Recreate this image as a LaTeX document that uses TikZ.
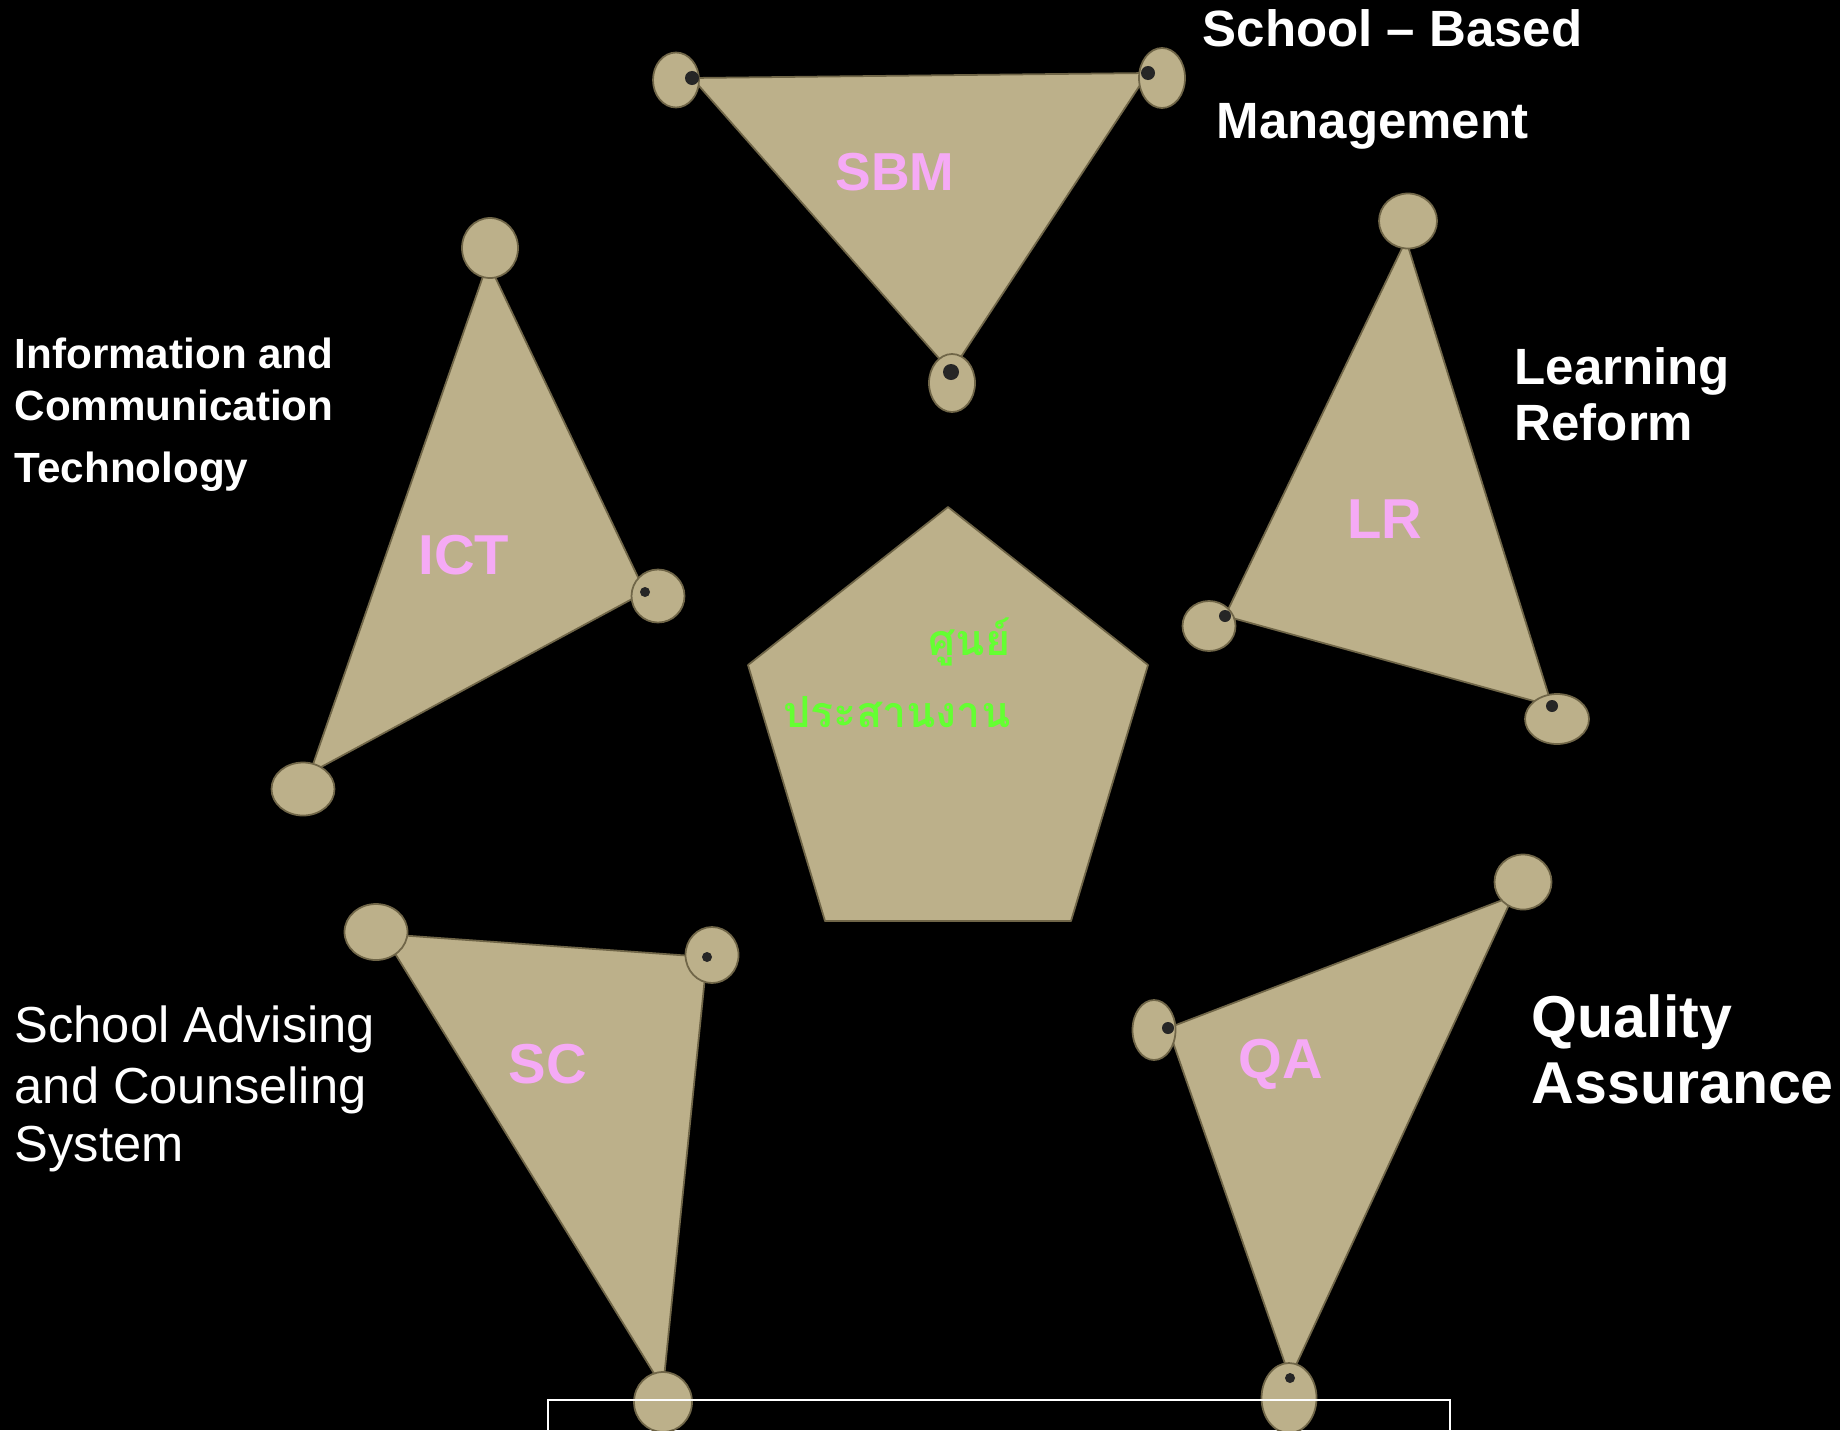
\documentclass[tikz,border=0pt]{standalone}
\usepackage{fontspec}
\setmainfont{Liberation Sans}
\newfontfamily\thaifont[Script=Thai]{Loma}
\usetikzlibrary{shapes.geometric,positioning}
\definecolor{plate}{RGB}{188,176,138}
\definecolor{rim}{RGB}{112,102,72}
\definecolor{tagpink}{RGB}{245,170,245}
\definecolor{thaigreen}{RGB}{100,255,50}

\begin{document}
\begin{tikzpicture}[x=0.01cm, y=-0.01cm,
    plate/.style={fill=plate, draw=rim, line width=0.5pt, line join=round},
    knob/.style 2 args={ellipse, fill=plate, draw=rim, line width=0.5pt, inner sep=0pt, minimum width=#1*0.01cm, minimum height=#2*0.01cm},
    notch/.style={fill=black!85},
    tag/.style={text=tagpink, inner sep=0pt, font=\bfseries\fontsize{16}{19}\selectfont},
    head/.style={text=white, anchor=base west, inner sep=0pt, font=\bfseries\fontsize{14.5}{17}\selectfont},
    thai/.style={text=thaigreen, anchor=base east, inner sep=0pt, font=\thaifont\bfseries\fontsize{12.2}{15}\selectfont}
]
    \fill[black] (0,0) rectangle (1840,1430);
    \useasboundingbox (0,0) rectangle (1840,1430);

    \coordinate (sbm-a) at (692,78);
    \coordinate (sbm-b) at (1148,73);
    \coordinate (sbm-c) at (951,372);
    \coordinate (ict-a) at (488,262);
    \coordinate (ict-b) at (645,592);
    \coordinate (ict-c) at (310,773);
    \coordinate (lr-a) at (1406,240);
    \coordinate (lr-b) at (1225,616);
    \coordinate (lr-c) at (1552,706);
    \coordinate (sc-a) at (383,934);
    \coordinate (sc-b) at (707,957);
    \coordinate (sc-c) at (663,1388);
    \coordinate (qa-a) at (1168,1028);
    \coordinate (qa-b) at (1513,896);
    \coordinate (qa-c) at (1290,1378);

    \fill[plate] (sbm-a) -- (sbm-b) -- (sbm-c) -- cycle;
    \fill[plate] (ict-a) -- (ict-b) -- (ict-c) -- cycle;
    \fill[plate] (lr-a) -- (lr-b) -- (lr-c) -- cycle;
    \fill[plate] (sc-a) -- (sc-b) -- (sc-c) -- cycle;
    \fill[plate] (qa-a) -- (qa-b) -- (qa-c) -- cycle;

    \node[knob={46}{55}] (sbm-ka) at (676,80) {};
    \node[knob={46}{60}] (sbm-kb) at (1162,78) {};
    \node[knob={46}{58}] (sbm-kc) at (952,383) {};
    \node[knob={56}{60}] (ict-ka) at (490,248) {};
    \node[knob={53}{53}] (ict-kb) at (658,596) {};
    \node[knob={63}{53}] (ict-kc) at (303,789) {};
    \node[knob={58}{55}] (lr-ka) at (1408,221) {};
    \node[knob={53}{50}] (lr-kb) at (1209,626) {};
    \node[knob={64}{50}] (lr-kc) at (1557,719) {};
    \node[knob={63}{56}] (sc-ka) at (376,932) {};
    \node[knob={53}{56}] (sc-kb) at (712,955) {};
    \node[knob={58}{60}] (sc-kc) at (663,1402) {};
    \node[knob={43}{60}] (qa-ka) at (1154,1030) {};
    \node[knob={57}{55}] (qa-kb) at (1523,882) {};
    \node[knob={55}{70}] (qa-kc) at (1289,1398) {};

    \fill[notch] (sbm-a) circle [radius=0.07cm];
    \fill[notch] (sbm-b) circle [radius=0.07cm];
    \fill[notch] (sbm-c) circle [radius=0.08cm];
    \fill[notch] (ict-b) circle [radius=0.05cm];
    \fill[notch] (lr-b) circle [radius=0.06cm];
    \fill[notch] (lr-c) circle [radius=0.06cm];
    \fill[notch] (sc-b) circle [radius=0.05cm];
    \fill[notch] (qa-a) circle [radius=0.06cm];
    \fill[notch] (qa-c) circle [radius=0.05cm];

    \node[tag, font=\bfseries\fontsize{15.2}{18}\selectfont] (sbm) at (895,172) {SBM};
    \node[tag] (ict) at (464,555) {ICT};
    \node[tag] (lr) at (1385,519) {LR};
    \node[tag] (sc) at (548,1064) {SC};
    \node[tag] (qa) at (1281,1064) {QA};

    \fill[plate] (948,507) -- (1148,665) -- (1071,921) -- (825,921) -- (748,665) -- cycle;
    \node[thai] (hub-top) at (1011,655) {ศูนย์};
    \node[thai] (hub-bottom) at (1011,727) {ประสานงาน};

    \node[head] (sbm-line1) at (1202,47) {School – Based};
    \node[head] (sbm-line2) at (1216,138) {Management};
    \node[head] (lr-line1) at (1514,384) {Learning};
    \node[head] (lr-line2) at (1514,440) {Reform};
    \node[head, font=\bfseries\fontsize{16.8}{20}\selectfont] (qa-line1) at (1531,1037) {Quality};
    \node[head, font=\bfseries\fontsize{16.8}{20}\selectfont] (qa-line2) at (1531,1103) {Assurance};
    \node[head, font=\bfseries\fontsize{12}{14}\selectfont] (ict-line1) at (14,368) {Information and};
    \node[head, font=\bfseries\fontsize{12}{14}\selectfont] (ict-line2) at (14,420) {Communication};
    \node[head, font=\bfseries\fontsize{12}{14}\selectfont] (ict-line3) at (14,482) {Technology};
    \node[head, font=\fontsize{14.4}{17}\selectfont] (sc-line1) at (14,1042) {School Advising};
    \node[head, font=\fontsize{14.4}{17}\selectfont] (sc-line2) at (14,1103) {and Counseling};
    \node[head, font=\fontsize{14.4}{17}\selectfont] (sc-line3) at (14,1161) {System};

    \draw[white, line width=0.6pt] (548,1432) -- (548,1400) -- (1450,1400) -- (1450,1432);
\end{tikzpicture}
\end{document}
